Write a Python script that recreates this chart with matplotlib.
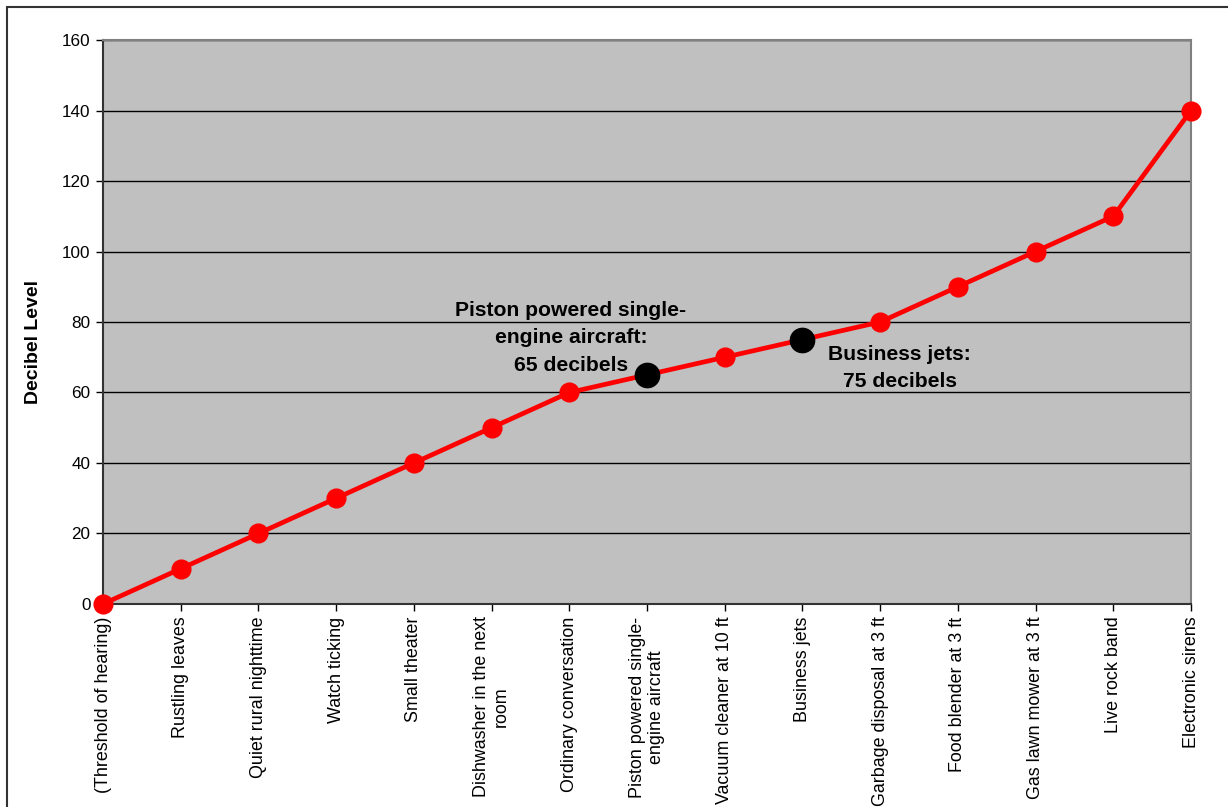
import matplotlib
matplotlib.use("Agg")
import matplotlib.pyplot as plt
from matplotlib.patches import Rectangle

plt.rcParams['font.family'] = ['Liberation Sans', 'DejaVu Sans']

sources = [
    "(Threshold of hearing)",
    "Rustling leaves",
    "Quiet rural nighttime",
    "Watch ticking",
    "Small theater",
    "Dishwasher in the next\nroom",
    "Ordinary conversation",
    "Piston powered single-\nengine aircraft",
    "Vacuum cleaner at 10 ft",
    "Business jets",
    "Garbage disposal at 3 ft",
    "Food blender at 3 ft",
    "Gas lawn mower at 3 ft",
    "Live rock band",
    "Electronic sirens",
]
decibels = [0, 10, 20, 30, 40, 50, 60, 65, 70, 75, 80, 90, 100, 110, 140]
highlighted = ["Piston powered single-\nengine aircraft", "Business jets"]
notes = ["Piston powered single-\nengine aircraft:\n65 decibels",
         "Business jets:\n75 decibels"]
yticks = [0, 20, 40, 60, 80, 100, 120, 140, 160]

fig = plt.figure(figsize=(12.28, 8.07), dpi=100)
ax = fig.add_axes([0.0839, 0.2516, 0.9699 - 0.0839, 0.9504 - 0.2516])
ax.set_facecolor('#C0C0C0')

x = list(range(len(sources)))
ax.plot(x, decibels, color='#FF0000', lw=3.4, marker='o', ms=13.5,
        mfc='#FF0000', mec='#FF0000', clip_on=False, zorder=3)

hx = [sources.index(h) for h in highlighted]
hy = [decibels[i] for i in hx]
ax.plot(hx, hy, ls='none', marker='o', ms=17.5, mfc='black', mec='black',
        clip_on=False, zorder=4)

ax.set_xlim(0, len(sources) - 1)
ax.set_ylim(0, 160)
ax.set_yticks(yticks)
ax.set_xticks(x)
ax.set_xticklabels(sources, rotation=90, ha='center', va='top',
                   multialignment='center', fontsize=12.9)
ax.tick_params(axis='y', labelsize=12.3, length=5, width=1, direction='out', pad=4)
ax.tick_params(axis='x', length=5, width=1, direction='out', pad=4)

ax.yaxis.grid(True, color='black', lw=1)
ax.set_axisbelow(True)

for s in ['top', 'right']:
    ax.spines[s].set_color('#808080')
    ax.spines[s].set_linewidth(1.5)
for s in ['left', 'bottom']:
    ax.spines[s].set_color('#333333')
    ax.spines[s].set_linewidth(1.5)

ax.set_ylabel("Decibel Level", fontsize=14, fontweight='bold')
ax.yaxis.set_label_coords(-0.056, 0.465)

ax.text(6.02, 75.5, notes[0], ha='center', va='center', fontsize=15.2,
        fontweight='bold', linespacing=1.57, zorder=5)
ax.text(10.25, 67.0, notes[1], ha='center', va='center', fontsize=15.2,
        fontweight='bold', linespacing=1.57, zorder=5)

# outer frame around the chart
fig.patches.append(Rectangle((7 / 1228, -0.1), 1.2, 1 - 7 / 807 + 0.1,
                             transform=fig.transFigure, fill=False,
                             edgecolor='#333333', lw=1.5))

fig.savefig("out.png", dpi=100)
